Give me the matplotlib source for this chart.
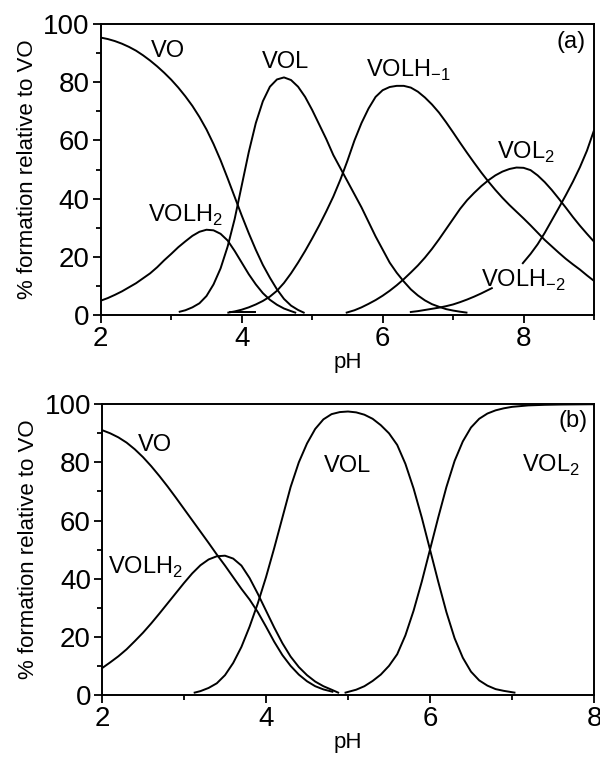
import numpy as np
import matplotlib
matplotlib.use("Agg")
import matplotlib.pyplot as plt
from matplotlib.ticker import MultipleLocator

plt.rcParams["font.family"] = ["Liberation Sans", "DejaVu Sans"]
plt.rcParams["mathtext.fontset"] = "custom"
plt.rcParams["mathtext.rm"] = "Liberation Sans"

# ── DATOS PANEL (a) ─────────────────────────────────────────
ph_vo_a = [2.0, 2.1, 2.2, 2.3, 2.4, 2.5, 2.6, 2.7, 2.8, 2.9, 3.0, 3.1, 3.2, 3.3, 3.4,
           3.5, 3.6, 3.7, 3.8, 3.9, 4.0, 4.1, 4.2, 4.3, 4.4, 4.5, 4.6, 4.7, 4.8, 4.88]
vo_a = [95.4, 94.9, 94.2, 93.3, 92.2, 90.9, 89.3, 87.5, 85.5, 83.3, 80.9, 78.2, 75.2,
        71.9, 68.1, 63.8, 58.8, 53.2, 47.0, 40.6, 34.2, 28.1, 22.4, 17.2, 12.8, 8.8,
        5.5, 3.2, 1.7, 0.8]

ph_volh2_a = [2.0, 2.1, 2.2, 2.3, 2.4, 2.5, 2.6, 2.7, 2.8, 2.9, 3.0, 3.1, 3.2, 3.3,
              3.4, 3.5, 3.6, 3.7, 3.8, 3.9, 4.0, 4.1, 4.2, 4.3, 4.4, 4.5, 4.6, 4.7, 4.76]
volh2_a = [4.9, 5.8, 6.9, 8.1, 9.5, 10.9, 12.6, 14.3, 16.4, 18.8, 21.0, 23.3, 25.3,
           27.2, 28.6, 29.3, 29.1, 27.9, 25.6, 22.0, 18.0, 14.0, 10.5, 7.5, 5.2, 3.5,
           2.2, 1.3, 0.8]

ph_vol_a = [3.12, 3.2, 3.3, 3.4, 3.5, 3.6, 3.7, 3.8, 3.9, 4.0, 4.1, 4.2, 4.3, 4.4,
            4.5, 4.6, 4.7, 4.8, 4.9, 5.0, 5.1, 5.2, 5.3, 5.4, 5.5, 5.6, 5.7, 5.8,
            5.9, 6.0, 6.1, 6.2, 6.3, 6.4, 6.5, 6.6, 6.7, 6.8, 6.9, 7.0, 7.1, 7.19]
vol_a = [1.1, 1.6, 2.6, 4.0, 6.5, 10.5, 16.0, 23.5, 33.0, 44.5, 56.0, 66.0, 73.5,
         78.5, 81.0, 81.7, 80.8, 78.5, 75.0, 70.5, 65.5, 60.5, 55.0, 50.5, 46.0,
         41.5, 37.0, 32.0, 27.0, 22.5, 18.0, 14.5, 11.5, 8.8, 6.7, 5.0, 3.7, 2.8,
         2.0, 1.5, 1.1, 0.8]

ph_volhm1_a = [3.81, 3.9, 4.0, 4.1, 4.2, 4.3, 4.4, 4.5, 4.6, 4.7, 4.8, 4.9, 5.0, 5.1,
               5.2, 5.3, 5.4, 5.5, 5.6, 5.7, 5.8, 5.9, 6.0, 6.1, 6.2, 6.3, 6.4, 6.5,
               6.6, 6.7, 6.8, 6.9, 7.0, 7.1, 7.2, 7.3, 7.4, 7.5, 7.6, 7.7, 7.8, 7.9,
               8.0, 8.1, 8.2, 8.3, 8.4, 8.5, 8.6, 8.7, 8.8, 8.9, 9.0]
volhm1_a = [0.8, 1.2, 1.8, 2.6, 3.6, 4.8, 6.3, 8.3, 11.0, 14.3, 18.0, 22.0, 26.3,
            30.8, 35.6, 40.7, 46.5, 53.0, 60.0, 66.0, 71.0, 75.0, 77.3, 78.4, 78.8,
            78.8, 78.2, 76.8, 74.8, 72.4, 69.6, 66.3, 62.8, 59.2, 55.7, 52.3, 49.0,
            45.9, 43.0, 40.3, 37.8, 35.5, 33.2, 30.8, 28.3, 25.8, 23.6, 21.4, 19.3,
            17.4, 15.6, 13.6, 11.7]

ph_vol2_a = [5.49, 5.6, 5.7, 5.8, 5.9, 6.0, 6.1, 6.2, 6.3, 6.4, 6.5, 6.6, 6.7, 6.8,
             6.9, 7.0, 7.1, 7.2, 7.3, 7.4, 7.5, 7.6, 7.7, 7.8, 7.9, 8.0, 8.1, 8.2,
             8.3, 8.4, 8.5, 8.6, 8.7, 8.8, 8.9, 9.0]
vol2_a = [0.8, 1.6, 2.6, 3.8, 5.1, 6.6, 8.3, 10.2, 12.3, 14.6, 17.0, 19.7, 22.7,
          26.0, 29.5, 33.0, 36.5, 39.5, 42.0, 44.3, 46.3, 48.0, 49.3, 50.2, 50.7,
          50.6, 49.8, 48.0, 45.7, 43.0, 40.0, 36.9, 33.7, 30.7, 27.9, 25.2]

# tramo cortado por la etiqueta (NaN)
ph_volhm2_a = [6.4, 6.5, 6.6, 6.7, 6.8, 6.9, 7.0, 7.1, 7.2, 7.3, 7.4, 7.5, 7.55, 7.75,
               7.99, 8.1, 8.2, 8.3, 8.4, 8.5, 8.6, 8.7, 8.8, 8.9, 9.0]
volhm2_a = [1.0, 1.3, 1.7, 2.1, 2.5, 3.0, 3.6, 4.4, 5.3, 6.3, 7.4, 8.6, 9.2, np.nan,
            17.8, 21.0, 24.3, 28.2, 32.5, 36.8, 41.2, 45.8, 50.8, 56.5, 63.5]

ph_menor_a = [3.83, 4.19]
menor_a = [1.0, 1.0]

# ── DATOS PANEL (b) ─────────────────────────────────────────
ph_vo_b = [2.0, 2.1, 2.2, 2.3, 2.4, 2.5, 2.6, 2.7, 2.8, 2.9, 3.0, 3.1, 3.2, 3.3, 3.4,
           3.5, 3.6, 3.7, 3.8, 3.9, 4.0, 4.1, 4.2, 4.3, 4.4, 4.5, 4.6, 4.7, 4.81]
vo_b = [91.1, 90.0, 88.6, 86.8, 84.5, 81.8, 78.7, 75.3, 71.7, 67.9, 64.0, 60.1, 56.2,
        52.3, 48.3, 44.5, 40.5, 36.5, 32.8, 28.5, 23.5, 18.3, 13.7, 10.0, 7.0, 4.7,
        3.0, 1.9, 1.1]

ph_volh2_b = [2.0, 2.1, 2.2, 2.3, 2.4, 2.5, 2.6, 2.7, 2.8, 2.9, 3.0, 3.1, 3.2, 3.3,
              3.4, 3.5, 3.6, 3.7, 3.8, 3.9, 4.0, 4.1, 4.2, 4.3, 4.4, 4.5, 4.6, 4.7,
              4.8, 4.88]
volh2_b = [9.2, 11.2, 13.3, 15.7, 18.5, 21.4, 24.6, 28.0, 31.5, 35.0, 38.5, 41.8,
           44.6, 46.6, 47.7, 47.9, 46.9, 44.5, 40.2, 34.8, 29.0, 23.2, 17.8, 13.2,
           9.6, 6.8, 4.6, 3.0, 1.8, 0.8]

ph_vol_b = [3.13, 3.2, 3.3, 3.4, 3.5, 3.6, 3.7, 3.8, 3.9, 4.0, 4.1, 4.2, 4.3, 4.4,
            4.5, 4.6, 4.7, 4.8, 4.9, 5.0, 5.1, 5.2, 5.3, 5.4, 5.5, 5.6, 5.7, 5.8,
            5.9, 6.0, 6.1, 6.2, 6.3, 6.4, 6.5, 6.6, 6.7, 6.8, 6.9, 7.03]
vol_b = [0.8, 1.3, 2.4, 4.0, 6.8, 11.0, 16.5, 23.5, 31.5, 40.5, 50.5, 61.0, 71.5,
         80.0, 86.5, 91.5, 94.8, 96.6, 97.3, 97.5, 97.2, 96.4, 95.0, 92.8, 90.0,
         86.0, 79.5, 71.0, 61.0, 50.0, 39.0, 28.5, 19.5, 12.8, 8.0, 5.0, 3.2, 2.0,
         1.4, 0.8]

ph_vol2_b = [4.97, 5.1, 5.2, 5.3, 5.4, 5.5, 5.6, 5.7, 5.8, 5.9, 6.0, 6.1, 6.2, 6.3,
             6.4, 6.5, 6.6, 6.7, 6.8, 6.9, 7.0, 7.2, 7.4, 7.6, 8.0]
vol2_b = [0.8, 1.8, 3.0, 4.8, 7.0, 10.0, 14.0, 20.5, 29.0, 39.0, 50.0, 61.0, 71.5,
          80.5, 87.2, 92.0, 95.0, 96.8, 97.9, 98.6, 99.1, 99.6, 99.8, 99.9, 100.0]
# ───────────────────────────────────────────────────────────

FS = 17
FS_TICK = 20
LW = 1.4


def formatear_ejes(ax, xmax):
    ax.set_xlim(2, xmax)
    ax.set_ylim(0, 100)
    ax.xaxis.set_major_locator(MultipleLocator(2))
    ax.xaxis.set_minor_locator(MultipleLocator(1))
    ax.yaxis.set_major_locator(MultipleLocator(20))
    ax.yaxis.set_minor_locator(MultipleLocator(10))
    ax.tick_params(which="major", direction="out", length=6, width=1.3,
                   labelsize=FS_TICK, pad=2)
    ax.tick_params(which="minor", direction="out", length=3.5, width=1.3)
    for s in ax.spines.values():
        s.set_linewidth(1.4)
    ax.set_xlabel("pH", fontsize=16, labelpad=0)
    ax.set_ylabel("% formation relative to VO", fontsize=16, labelpad=4)


fig = plt.figure(figsize=(6, 7.57), dpi=100)
ax1 = fig.add_axes([0.168, 0.584, 0.822, 0.384])
ax2 = fig.add_axes([0.170, 0.082, 0.820, 0.384])

# --- Panel (a) ---
for xs, ys in [(ph_vo_a, vo_a), (ph_volh2_a, volh2_a), (ph_vol_a, vol_a),
               (ph_volhm1_a, volhm1_a), (ph_vol2_a, vol2_a),
               (ph_volhm2_a, volhm2_a), (ph_menor_a, menor_a)]:
    ax1.plot(xs, ys, color="black", lw=LW)

formatear_ejes(ax1, 9)
ax1.text(2.95, 90.8, "VO", fontsize=FS, ha="center", va="center")
ax1.text(4.62, 87, "VOL", fontsize=FS, ha="center", va="center")
ax1.text(3.2, 34.4, r"VOLH$_\mathregular{2}$", fontsize=FS, ha="center", va="center")
ax1.text(6.36, 84, r"VOLH$_\mathregular{-1}$", fontsize=FS, ha="center", va="center")
ax1.text(8.04, 56, r"VOL$_\mathregular{2}$", fontsize=FS, ha="center", va="center")
ax1.text(8.0, 12, r"VOLH$_\mathregular{-2}$", fontsize=FS, ha="center", va="center")
ax1.text(8.68, 94, "(a)", fontsize=FS, ha="center", va="center")

# --- Panel (b) ---
for xs, ys in [(ph_vo_b, vo_b), (ph_volh2_b, volh2_b), (ph_vol_b, vol_b),
               (ph_vol2_b, vol2_b)]:
    ax2.plot(xs, ys, color="black", lw=LW)

formatear_ejes(ax2, 8)
ax2.text(2.65, 86, "VO", fontsize=FS, ha="center", va="center")
ax2.text(2.53, 44, r"VOLH$_\mathregular{2}$", fontsize=FS, ha="center", va="center")
ax2.text(4.99, 78.7, "VOL", fontsize=FS, ha="center", va="center")
ax2.text(7.47, 79, r"VOL$_\mathregular{2}$", fontsize=FS, ha="center", va="center")
ax2.text(7.74, 94.3, "(b)", fontsize=FS, ha="center", va="center")

fig.savefig("out.png", dpi=100)
